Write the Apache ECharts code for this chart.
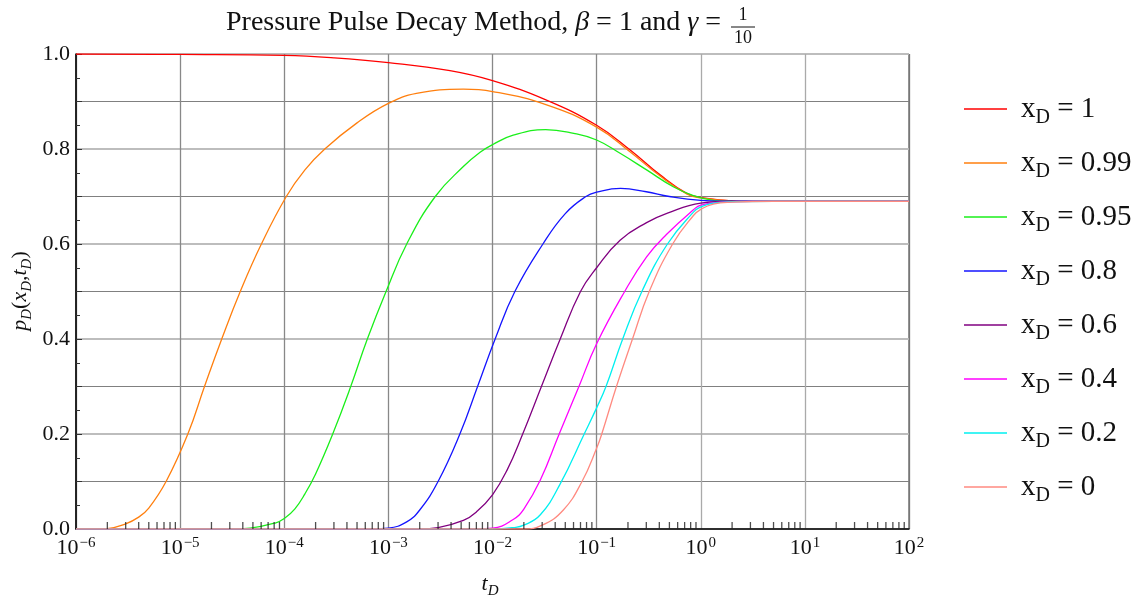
<!DOCTYPE html>
<html><head><meta charset="utf-8">
<script src="https://cdn.jsdelivr.net/npm/echarts@6/dist/echarts.min.js"></script>
<style>html,body{margin:0;padding:0;background:#fff}#c{width:1144px;height:598px}</style>
</head><body><div id="c"></div>
<script>
const FONT = '"Liberation Serif","Times New Roman","DejaVu Serif",serif';

// x_D labels and colours
const xDValues = ['1', '0.99', '0.95', '0.8', '0.6', '0.4', '0.2', '0'];
const seriesColors = ['#ff0000', '#ff7f0e', '#1aef1a', '#1414ff', '#800080', '#ff00ff', '#00f0f0', '#ff8a80'];

// x_D = 1
const t_1 = [1e-6, 1e-5, 1e-4, 3e-4, 1e-3, 3.9e-3, 1e-2, 3.3e-2, 1e-1, 2.1e-1, 4.1e-1, 7.4e-1, 1, 2, 5, 100];
const p_1 = [1.0, 0.999, 0.997, 0.992, 0.982, 0.965, 0.944, 0.903, 0.850, 0.798, 0.745, 0.706, 0.698, 0.691, 0.690, 0.690];
// x_D = 0.99
const t_099 = [1e-6, 2e-6, 3e-6, 4e-6, 5e-6, 7.33e-6, 1.186e-5, 1.714e-5, 2.51e-5, 3.78e-5, 6.03e-5, 1.047e-4, 1.58e-4, 2.45e-4, 5e-4, 1e-3, 1.86e-3, 5.25e-3, 1e-2, 3.31e-2, 1e-1, 2.09e-1, 4.07e-1, 7.41e-1, 1, 2, 5, 100];
const p_099 = [0, 0.001, 0.011, 0.025, 0.044, 0.100, 0.200, 0.300, 0.400, 0.500, 0.600, 0.700, 0.756, 0.800, 0.855, 0.896, 0.917, 0.926, 0.921, 0.893, 0.846, 0.794, 0.743, 0.705, 0.697, 0.691, 0.690, 0.690];
// x_D = 0.95
const t_095 = [1e-6, 3e-5, 4.7e-5, 8.3e-5, 1e-4, 1.26e-4, 1.58e-4, 2e-4, 2.92e-4, 4.35e-4, 6.28e-4, 9.5e-4, 1.5e-3, 2.82e-3, 5.25e-3, 7.6e-3, 1e-2, 1.58e-2, 3.24e-2, 6.03e-2, 1e-1, 1.68e-1, 3.02e-1, 5.5e-1, 8.5e-1, 1.32, 2, 5, 100];
const p_095 = [0, 0, 0.002, 0.013, 0.022, 0.042, 0.074, 0.116, 0.200, 0.300, 0.400, 0.500, 0.600, 0.700, 0.763, 0.793, 0.809, 0.829, 0.841, 0.833, 0.819, 0.791, 0.756, 0.720, 0.702, 0.692, 0.690, 0.690, 0.690];
// x_D = 0.8
const t_08 = [1e-6, 6e-4, 1e-3, 1.5e-3, 2e-3, 3e-3, 4.86e-3, 7.19e-3, 1.06e-2, 1.64e-2, 3.05e-2, 5e-2, 7.9e-2, 1e-1, 1.7e-1, 3e-1, 5e-1, 1, 2, 100];
const p_08 = [0, 0, 0.002, 0.015, 0.040, 0.100, 0.200, 0.300, 0.400, 0.500, 0.600, 0.664, 0.700, 0.709, 0.717, 0.710, 0.700, 0.692, 0.690, 0.690];
// x_D = 0.6
const t_06 = [1e-6, 2e-3, 3e-3, 5.25e-3, 7e-3, 1e-2, 1.38e-2, 1.95e-2, 2.95e-2, 4.47e-2, 7e-2, 1e-1, 1.68e-1, 3.02e-1, 4.79e-1, 1, 2, 100];
const p_06 = [0, 0, 0.003, 0.018, 0.036, 0.072, 0.124, 0.200, 0.300, 0.400, 0.500, 0.550, 0.608, 0.645, 0.665, 0.686, 0.690, 0.690];
// x_D = 0.4
const t_04 = [1e-6, 5e-3, 1e-2, 1.58e-2, 2e-2, 2.88e-2, 4.37e-2, 6.76e-2, 1e-1, 1.86e-1, 3.02e-1, 4.68e-1, 8.51e-1, 1, 1.58, 3.16, 100];
const p_04 = [0, 0, 0.002, 0.020, 0.042, 0.103, 0.200, 0.300, 0.390, 0.500, 0.573, 0.620, 0.672, 0.682, 0.688, 0.690, 0.690];
// x_D = 0.2
const t_02 = [1e-6, 1e-2, 1.58e-2, 2e-2, 2.88e-2, 4.47e-2, 7.6e-2, 1e-1, 1.23e-1, 1.78e-1, 2.72e-1, 4.79e-1, 8.51e-1, 1, 1.32, 2, 5, 100];
const p_02 = [0, 0, 0.003, 0.008, 0.030, 0.095, 0.200, 0.255, 0.300, 0.400, 0.500, 0.600, 0.667, 0.678, 0.686, 0.689, 0.690, 0.690];
// x_D = 0
const t_0 = [1e-6, 2e-2, 3e-2, 4.79e-2, 7.24e-2, 1e-1, 1.12e-1, 1.55e-1, 2.21e-1, 3.2e-1, 5.37e-1, 8.51e-1, 1, 1.32, 2, 5, 100];
const p_0 = [0, 0, 0.008, 0.040, 0.100, 0.170, 0.200, 0.300, 0.400, 0.500, 0.600, 0.660, 0.673, 0.684, 0.688, 0.690, 0.690];

const tLists = [t_1, t_099, t_095, t_08, t_06, t_04, t_02, t_0];
const pLists = [p_1, p_099, p_095, p_08, p_06, p_04, p_02, p_0];

// tick labels
const xTickExponents = ['−6', '−5', '−4', '−3', '−2', '−1', '0', '1', '2'];
const yTickLabels = ['0.0', '0.2', '0.4', '0.6', '0.8', '1.0'];
const minorTickMantissas = [2, 3, 4, 5, 6, 7, 8, 9];

const chart = echarts.init(document.getElementById('c'), null, {renderer: 'canvas'});

const minorTicks = [];
for (let e = -6; e < 2; e++) {
  for (const m of minorTickMantissas) minorTicks.push([m * Math.pow(10, e), 0]);
}

const lineSeries = xDValues.map((name, i) => ({
  name: name,
  type: 'line',
  data: tLists[i].map((t, j) => [t, pLists[i][j]]),
  symbol: 'none',
  smooth: 0.45,
  clip: true,
  lineStyle: {color: seriesColors[i], width: 1.3},
  itemStyle: {color: seriesColors[i]},
  z: 3
}));

const option = {
  backgroundColor: '#ffffff',
  animation: false,
  grid: {left: 76, right: 235, top: 54, bottom: 69, show: true, borderColor: '#333', borderWidth: 1, containLabel: false},
  xAxis: {
    type: 'log', logBase: 10, min: 1e-6, max: 100,
    axisLine: {show: true, lineStyle: {color: '#000', width: 1.5}},
    axisTick: {show: false},
    splitLine: {show: true, lineStyle: {color: ['#888', '#888', '#888', '#888', '#888', '#888', '#aaa', '#aaa', '#777'], width: 1.3}},
    axisLabel: {
      margin: 7,
      formatter: function (v) {
        const e = Math.round(Math.log10(v));
        return '{b|10}{s|' + xTickExponents[e + 6] + '}';
      },
      rich: {
        b: {fontFamily: FONT, fontSize: 22, color: '#111', lineHeight: 24},
        s: {fontFamily: FONT, fontSize: 15, color: '#111', lineHeight: 15, padding: [0, 0, 11, 1], verticalAlign: 'top'}
      }
    }
  },
  yAxis: [{
    type: 'value', min: 0, max: 1, interval: 0.1,
    axisLine: {show: true, lineStyle: {color: '#000', width: 1.5}},
    axisTick: {show: true, inside: true, length: 6, lineStyle: {color: '#333'}},
    minorTick: {show: true, splitNumber: 2, length: 4, lineStyle: {color: '#333'}},
    splitLine: {show: true, lineStyle: {color: ['#bbb', '#808080'], width: 1}},
    axisLabel: {
      margin: 6, fontFamily: FONT, fontSize: 22, color: '#111',
      formatter: function (v) {
        const k = Math.round(v * 10);
        return k % 2 === 0 ? yTickLabels[k / 2] : '';
      }
    }
  }, {
    type: 'value', min: 0, max: 1, interval: 0.2, position: 'left',
    axisLine: {show: false}, axisTick: {show: false}, axisLabel: {show: false},
    splitLine: {show: true, lineStyle: {color: '#bdbdbd', width: 2}}
  }],
  legend: {
    orient: 'vertical', left: 959, top: 85, itemGap: 16,
    itemWidth: 43, itemHeight: 1.6, icon: 'rect',
    data: xDValues,
    formatter: function (name) { return '{b|x}{sub|D}{b| = ' + name + '}'; },
    textStyle: {
      padding: [0, 0, 0, 9],
      rich: {
        b: {fontFamily: FONT, fontSize: 29, color: '#111', lineHeight: 30},
        sub: {fontFamily: FONT, fontSize: 20, color: '#111', lineHeight: 20, padding: [18, 0, 0, 0]}
      }
    }
  },
  series: lineSeries.concat([{
    name: 'minorTicks', type: 'scatter', data: minorTicks,
    symbol: 'rect', symbolSize: [1.3, 7], symbolOffset: [0, -3.5],
    itemStyle: {color: '#222'}, silent: true, z: 5, clip: false
  }]),
  graphic: [
    {type: 'text', left: 226, top: 9, style: {
      text: 'Pressure Pulse Decay Method, {i|β} = 1 and {i|γ} = ',
      font: '28px ' + FONT, fill: '#111',
      rich: {i: {fontFamily: FONT, fontSize: 28, fontStyle: 'italic', fill: '#111'}}
    }},
    {type: 'text', x: 743, y: 15, style: {text: '1', font: '18px ' + FONT, fill: '#111', align: 'center', verticalAlign: 'middle'}},
    {type: 'line', shape: {x1: 731, y1: 27, x2: 755, y2: 27}, style: {stroke: '#111', lineWidth: 1}},
    {type: 'text', x: 743, y: 38, style: {text: '10', font: '18px ' + FONT, fill: '#111', align: 'center', verticalAlign: 'middle'}},
    {type: 'text', x: 20, y: 291, rotation: Math.PI / 2, style: {
      text: '{i|p}{s|D}{n|(}{i|x}{s|D}{n|,}{i|t}{s|D}{n|)}',
      align: 'center', verticalAlign: 'middle',
      rich: {
        i: {fontFamily: FONT, fontSize: 22, fontStyle: 'italic', fill: '#111', lineHeight: 24},
        n: {fontFamily: FONT, fontSize: 22, fill: '#111', lineHeight: 24},
        s: {fontFamily: FONT, fontSize: 15, fontStyle: 'italic', fill: '#111', lineHeight: 15, padding: [14, 0, 0, 0]}
      }
    }},
    {type: 'text', x: 490, y: 584, style: {
      text: '{i|t}{s|D}',
      align: 'center', verticalAlign: 'middle',
      rich: {
        i: {fontFamily: FONT, fontSize: 22, fontStyle: 'italic', fill: '#111', lineHeight: 24},
        s: {fontFamily: FONT, fontSize: 15, fontStyle: 'italic', fill: '#111', lineHeight: 15, padding: [14, 0, 0, 0]}
      }
    }}
  ]
};
chart.setOption(option);
</script>
</body></html>
